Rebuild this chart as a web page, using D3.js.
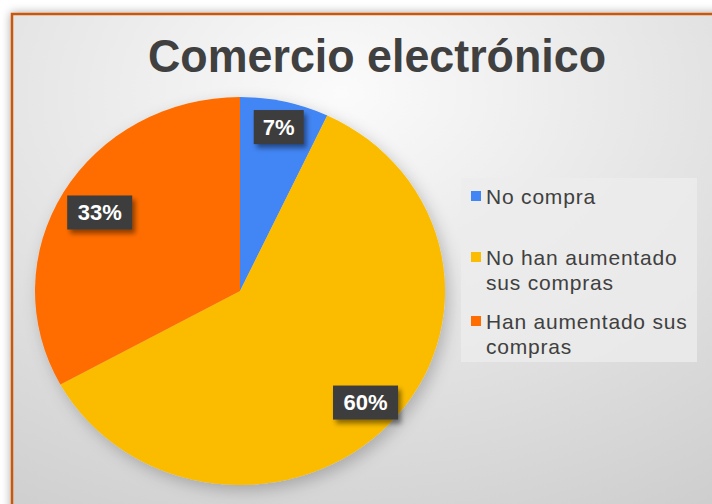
<!DOCTYPE html>
<html>
<head>
<meta charset="utf-8">
<script src="https://cdn.jsdelivr.net/npm/d3@7/dist/d3.min.js"></script>
<style>
  html, body { margin: 0; padding: 0; background: #ffffff; }
  svg { display: block; }
</style>
</head>
<body>
<script>
// Encuesta sobre comercio electrónico
const categories = ["No compra", "No han aumentado sus compras", "Han aumentado sus compras"];
const values = [7, 60, 33];
const valueLabels = ["7%", "60%", "33%"];
const legendLines = [["No compra"], ["No han aumentado", "sus compras"], ["Han aumentado sus", "compras"]];
const colors = ["#4285F4", "#FBBC04", "#FF6D01"];
const title = "Comercio electrónico";

const W = 712, H = 504;
const svg = d3.select("body").append("svg").attr("width", W).attr("height", H);
const defs = svg.append("defs");

// background gradient of the chart area
const bg = defs.append("radialGradient").attr("id", "bg")
  .attr("cx", "45%").attr("cy", "15%").attr("r", "95%");
bg.append("stop").attr("offset", "0%").attr("stop-color", "#fbfbfb");
bg.append("stop").attr("offset", "55%").attr("stop-color", "#e2e2e2");
bg.append("stop").attr("offset", "100%").attr("stop-color", "#cdcdcd");

const frameShadow = defs.append("filter").attr("id", "frameShadow")
  .attr("x", "-5%").attr("y", "-5%").attr("width", "110%").attr("height", "110%");
frameShadow.append("feDropShadow").attr("dx", 0).attr("dy", 0)
  .attr("stdDeviation", 5).attr("flood-color", "#000").attr("flood-opacity", 0.35);

const pieShadow = defs.append("filter").attr("id", "pieShadow")
  .attr("x", "-20%").attr("y", "-20%").attr("width", "140%").attr("height", "140%");
pieShadow.append("feDropShadow").attr("dx", 4).attr("dy", 6)
  .attr("stdDeviation", 8).attr("flood-color", "#000").attr("flood-opacity", 0.22);

const boxShadow = defs.append("filter").attr("id", "boxShadow")
  .attr("x", "-30%").attr("y", "-30%").attr("width", "170%").attr("height", "170%");
boxShadow.append("feDropShadow").attr("dx", 3).attr("dy", 4)
  .attr("stdDeviation", 2.5).attr("flood-color", "#000").attr("flood-opacity", 0.45);

// chart frame
svg.append("rect")
  .attr("x", 12).attr("y", 14).attr("width", W + 20).attr("height", H + 20)
  .attr("fill", "url(#bg)")
  .attr("stroke", "#C8580F").attr("stroke-width", 2.5)
  .attr("filter", "url(#frameShadow)");

// title
svg.append("text")
  .attr("x", 377).attr("y", 72)
  .attr("text-anchor", "middle")
  .attr("font-family", "Liberation Sans, Arial, sans-serif")
  .attr("font-weight", "bold")
  .attr("font-size", 46)
  .attr("textLength", 458)
  .attr("lengthAdjust", "spacingAndGlyphs")
  .attr("fill", "#404040")
  .text(title);

// pie
const cx = 240, cy = 291, rx = 205, ry = 194;
const pie = d3.pie().sort(null).value(d => d)(values);
const arc = d3.arc().innerRadius(0).outerRadius(rx);

const pieG = svg.append("g")
  .attr("transform", `translate(${cx},${cy}) scale(1,${ry / rx})`)
  .attr("filter", "url(#pieShadow)");
pieG.selectAll("path").data(pie).join("path")
  .attr("d", arc)
  .attr("fill", (d, i) => colors[i]);

// data labels, placed along each slice's mid angle
const labelRadius = [0.866, 0.84, 0.795];
const labelG = svg.append("g");
pie.forEach((d, i) => {
  const a = (d.startAngle + d.endAngle) / 2;
  const x = cx + Math.sin(a) * rx * labelRadius[i];
  const y = cy - Math.cos(a) * ry * labelRadius[i];
  const g = labelG.append("g").attr("transform", `translate(${x},${y})`);
  const bw = valueLabels[i].length * 15 + 20, bh = 34;
  g.append("rect")
    .attr("x", -bw / 2).attr("y", -bh / 2).attr("width", bw).attr("height", bh)
    .attr("fill", "#3c3c3c")
    .attr("filter", "url(#boxShadow)");
  g.append("text")
    .attr("text-anchor", "middle").attr("dy", "0.36em")
    .attr("font-family", "Liberation Sans, Arial, sans-serif")
    .attr("font-weight", "bold").attr("font-size", 22)
    .attr("fill", "#ffffff")
    .text(valueLabels[i]);
});

// legend
const legend = svg.append("g");
legend.append("rect")
  .attr("x", 461).attr("y", 178).attr("width", 236).attr("height", 184)
  .attr("fill", "#ececec").attr("opacity", 0.8);
const itemY = [197, 258, 322];
legendLines.forEach((lines, i) => {
  legend.append("rect")
    .attr("x", 471).attr("y", itemY[i] - 6).attr("width", 10).attr("height", 10)
    .attr("fill", colors[i]);
  const t = legend.append("text")
    .attr("x", 486).attr("y", itemY[i] + 7)
    .attr("font-family", "Liberation Sans, Arial, sans-serif")
    .attr("font-size", 21).attr("letter-spacing", 0.8).attr("fill", "#404040");
  lines.forEach((ln, j) => {
    t.append("tspan").attr("x", 486).attr("dy", j === 0 ? 0 : 24.5).text(ln);
  });
});
</script>
</body>
</html>
